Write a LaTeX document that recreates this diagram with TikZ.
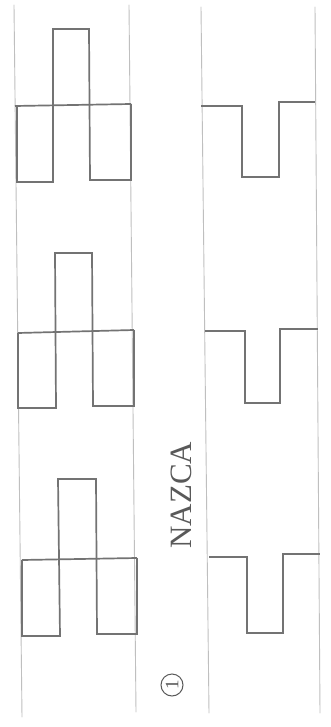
\documentclass[tikz,border=0pt]{standalone}
\usepackage{fontspec}
\setmainfont{Liberation Serif}
\usetikzlibrary{positioning}

\begin{document}
\begin{tikzpicture}[x=1pt,y=-1pt]
\tikzset{
  bandline/.style={draw=black!25,line width=0.9pt,line cap=round},
  stepline/.style={draw=black!55,line width=1.7pt,line join=miter},
  caption/.style={font=\fontsize{31}{36}\selectfont,text=black!65,inner sep=0pt},
  markcircle/.style={circle,draw=black!65,line width=1pt,minimum size=22pt,inner sep=0pt,
    font=\fontsize{19}{22}\selectfont,text=black!65}
}
\useasboundingbox[fill=white] (0,0) rectangle (330,727);
% band edges
\draw[bandline] (14,5) -- (22,717);
\draw[bandline] (129,5) -- (136,712);
\draw[bandline] (201,7) -- (209,713);
\draw[bandline] (315,7) -- (320,713);
% left band: stepped cross
\draw[stepline] (17,106) -- (17,182) -- (53,182) -- (53,29) -- (89,29) -- (90,180) -- (131,180) -- (131,104);
\draw[stepline] (15,106) -- (131,104);
\draw[stepline] (18,333) -- (18,408) -- (56,408) -- (55,253) -- (92,253) -- (93,406) -- (134,406) -- (134,330);
\draw[stepline] (18,333) -- (134,330);
\draw[stepline] (22,560) -- (22,636) -- (60,636) -- (58,479) -- (96,479) -- (97,634) -- (137,634) -- (137,558);
\draw[stepline] (22,560) -- (137,558);
% right band: notches
\draw[stepline] (201,106) -- (242,106) -- (242,177) -- (279,177) -- (279,102) -- (315,102);
\draw[stepline] (205,331) -- (245,331) -- (245,403) -- (280,403) -- (280,329) -- (318,329);
\draw[stepline] (209,557) -- (247,557) -- (247,633) -- (283,633) -- (283,554) -- (320,554);
% labels
\node[caption,rotate=90] (nazca) at (181,495) {NAZCA};
\node[markcircle,rotate=90] (plate) at (172,685) {1};
\end{tikzpicture}
\end{document}
